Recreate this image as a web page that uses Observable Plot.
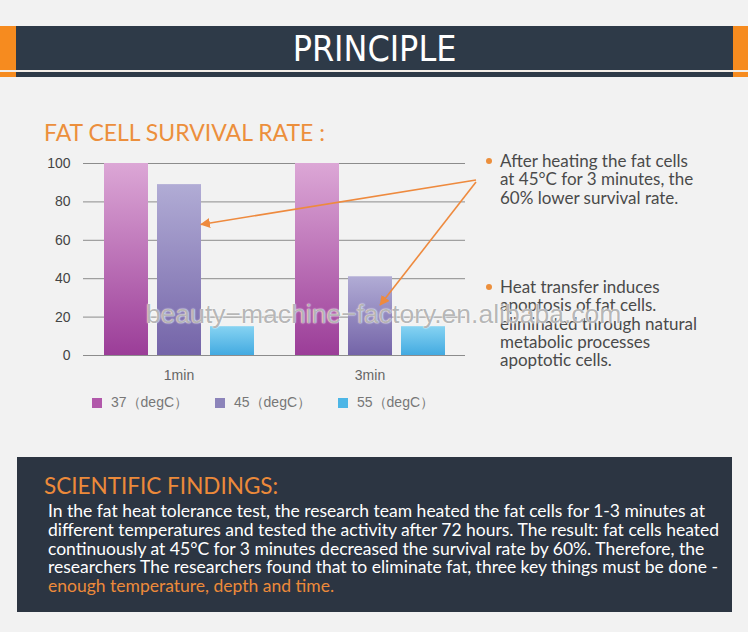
<!DOCTYPE html>
<html>
<head>
<meta charset="utf-8">
<script src="https://cdn.jsdelivr.net/npm/d3@7"></script>
<script src="https://cdn.jsdelivr.net/npm/@observablehq/plot@0.6"></script>
<style>
  html, body { margin: 0; padding: 0; }
  body { width: 748px; height: 632px; background: #f2f2f2; position: relative; overflow: hidden; font-family: Lato, "Open Sans", sans-serif; }
  .abs { position: absolute; }
  .orange { background: #f68b1f; }
  .dark { background: #2e3a48; }
  #hdrText { left: 16px; top: 26px; width: 717px; height: 44px; line-height: 46px; text-align: center; color: #fff; font-family: "DejaVu Sans Condensed", "DejaVu Sans", sans-serif; font-stretch: condensed; font-size: 35.5px; }
  #chartTitle { left: 44px; top: 117px; font-size: 23px; color: #ec8f3c; white-space: nowrap; line-height: 30px; }
  #legend { left: 92px; top: 394px; height: 18px; display: flex; font-family: "Liberation Sans", Arial, sans-serif; font-size: 14px; color: #777; }
  .lgItem { width: 123px; display: flex; align-items: center; white-space: nowrap; }
  .lgSwatch { width: 10px; height: 10px; margin-right: 9px; }
  .notes { left: 500px; font-size: 17px; line-height: 18.3px; color: #4a4a4a; white-space: nowrap; }
  .notes::before { content: ""; position: absolute; left: -14px; top: 6px; width: 6px; height: 6px; border-radius: 50%; background: #ec8f3c; }
  #panel { left: 17px; top: 457px; width: 715px; height: 155px; background: #2c3542; }
  #findTitle { left: 44px; top: 471px; font-size: 22.5px; color: #ec8a3a; line-height: 30px; white-space: nowrap; }
  #findBody { left: 48px; top: 502px; font-size: 17.5px; line-height: 18.8px; color: #fff; white-space: nowrap; }
  #findBody .hl { color: #ec8a3a; }
  #watermark { left: 146px; top: 299px; line-height: 30px; font-family: "Liberation Sans", Arial, sans-serif; font-size: 26.5px; color: rgba(120,120,120,0.55); text-shadow: 0 0 1px #fff, 0 0 2px #fff; white-space: nowrap; pointer-events: none; }
</style>
</head>
<body>
<div class="abs orange" style="left:0;top:26px;width:16px;height:51px"></div>
<div class="abs orange" style="left:733px;top:26px;width:15px;height:51px"></div>
<div class="abs dark" style="left:16px;top:26px;width:717px;height:44px"></div>
<div class="abs" style="left:0;top:70px;width:748px;height:2px;background:#f3eee8"></div>
<div class="abs dark" style="left:16px;top:72px;width:717px;height:5px"></div>
<div id="hdrText" class="abs">PRINCIPLE</div>

<div id="chartTitle" class="abs">FAT CELL SURVIVAL RATE :</div>
<div id="chart" class="abs" style="left:0;top:150px"></div>
<div id="legend" class="abs"></div>

<div class="abs notes" style="top:152px">After heating the fat cells<br>at 45°C for 3 minutes, the<br>60% lower survival rate.</div>
<div class="abs notes" style="top:278px">Heat transfer induces<br>apoptosis of fat cells.<br>eliminated through natural<br>metabolic processes<br>apoptotic cells.</div>

<div id="watermark" class="abs">beauty−machine−factory.en.alibaba.com</div>
<svg id="arrows" class="abs" style="left:0;top:0" width="748" height="632"></svg>

<div id="panel" class="abs"></div>
<div id="findTitle" class="abs">SCIENTIFIC FINDINGS:</div>
<div id="findBody" class="abs">In the fat heat tolerance test, the research team heated the fat cells for 1-3 minutes at<br>different temperatures and tested the activity after 72 hours. The result: fat cells heated<br>continuously at 45°C for 3 minutes decreased the survival rate by 60%. Therefore, the<br>researchers The researchers found that to eliminate fat, three key things must be done -<br><span class="hl">enough temperature, depth and time.</span></div>

<script>
// ---- data ----
const times = ["1min", "3min"];
const temps = [37, 45, 55];
const values37 = [100, 100];
const values45 = [89, 41];
const values55 = [15, 15];
const yTicks = [0, 20, 40, 60, 80, 100];
const tempLabels = ["37（degC）", "45（degC）", "55（degC）"];
const gradTop = ["#dca7d6", "#b1acd5", "#86d3f2"];
const gradBottom = ["#9b3d98", "#7464a8", "#43aae1"];
const legendColors = ["#b158aa", "#8c84ba", "#4db6e6"];
// annotation arrows (point at the 45 degC bars)
const arrowTime = ["1min", "3min"];
const arrowTemp = [45, 45];
const arrowValue = [68, 26];
const arrowFrac = [1.0, 0.73];

const seriesByTemp = {37: values37, 45: values45, 55: values55};
const rows = times.flatMap((t, i) => temps.map(k => ({time: t, temp: k, value: seriesByTemp[k][i]})));

const plot = Plot.plot({
  width: 480,
  height: 235,
  marginLeft: 83,
  marginRight: 15,
  marginTop: 13,
  marginBottom: 30,
  style: {background: "transparent", fontFamily: "'Liberation Sans', Arial, sans-serif", fontSize: "14px", color: "#444", overflow: "visible"},
  facet: {data: rows, x: "time"},
  fx: {domain: times, padding: 0, axis: "bottom", tickSize: 0, tickPadding: 15, label: null},
  x: {type: "band", domain: temps, axis: null, paddingInner: 0.17, paddingOuter: 0.385},
  y: {domain: [0, 100], ticks: yTicks, tickSize: 0, tickPadding: 13, label: null},
  color: {type: "ordinal", domain: temps, range: temps.map(k => `url(#grad${k})`)},
  marks: [
    Plot.ruleY(yTicks, {stroke: "#8c8c8c", strokeWidth: 1, facet: false}),
    Plot.barY(rows, {x: "temp", y: "value", fill: "temp"})
  ]
});

const defs = d3.select(plot).insert("defs", ":first-child");
temps.forEach((k, i) => {
  const g = defs.append("linearGradient").attr("id", `grad${k}`).attr("x1", 0).attr("y1", 0).attr("x2", 0).attr("y2", 1);
  g.append("stop").attr("offset", "0%").attr("stop-color", gradTop[i]);
  g.append("stop").attr("offset", "100%").attr("stop-color", gradBottom[i]);
});
d3.select(plot).selectAll("[aria-label='fx-axis'] text, [aria-label='fx-axis tick label'] text").attr("fill", "#666");
document.getElementById("chart").appendChild(plot);

// legend
const lg = d3.select("#legend");
temps.forEach((k, i) => {
  const it = lg.append("div").attr("class", "lgItem");
  it.append("div").attr("class", "lgSwatch").style("background", legendColors[i]);
  it.append("span").text(tempLabels[i]);
});

// arrows
const chartLeft = 0, chartTop = 150;
const fxS = plot.scale("fx"), xS = plot.scale("x"), yS = plot.scale("y");
const asvg = d3.select("#arrows");
asvg.append("defs").append("marker")
  .attr("id", "ah").attr("viewBox", "0 0 10 10").attr("refX", 9).attr("refY", 5)
  .attr("markerWidth", 10).attr("markerHeight", 10).attr("markerUnits", "userSpaceOnUse")
  .attr("orient", "auto")
  .append("path").attr("d", "M0,0L10,5L0,10z").attr("fill", "#ee8a3e");
const startX = 476, startY = [180, 182];
arrowTime.forEach((t, i) => {
  const ex = chartLeft + fxS.apply(t) - xS.range[0] + xS.apply(arrowTemp[i]) + xS.bandwidth * arrowFrac[i];
  const ey = chartTop + yS.apply(arrowValue[i]);
  asvg.append("line").attr("x1", startX).attr("y1", startY[i]).attr("x2", ex).attr("y2", ey)
    .attr("stroke", "#ee8a3e").attr("stroke-width", 1.6).attr("marker-end", "url(#ah)");
});
</script>
</body>
</html>
